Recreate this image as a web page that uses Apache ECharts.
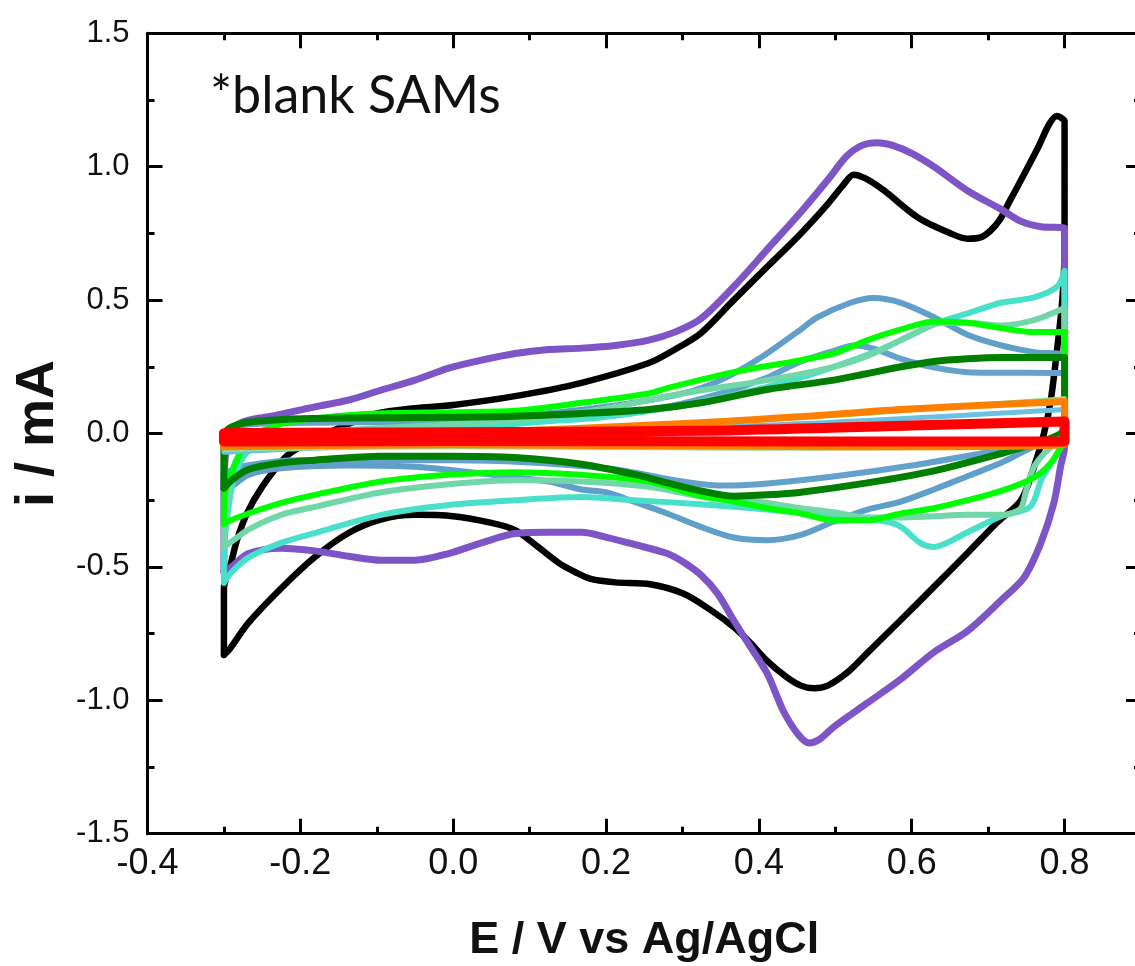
<!DOCTYPE html>
<html>
<head>
<meta charset="utf-8">
<script src="https://cdn.jsdelivr.net/npm/echarts@6/dist/echarts.min.js"></script>
<style>
html,body{margin:0;padding:0;background:#fff;}
#chart{width:1135px;height:966px;}
</style>
</head>
<body>
<div id="chart"></div>
<script>
// Tick values
const xMajor = [-0.4, -0.2, 0, 0.2, 0.4, 0.6, 0.8];
const xMinor = [-0.3, -0.1, 0.1, 0.3, 0.5, 0.7];
const yMajor = [-1.5, -1, -0.5, 0, 0.5, 1, 1.5];
const yMinor = [-1.25, -0.75, -0.25, 0.25, 0.75, 1.25];

// CV curves: [E (V), i (mA)]
const cvBlack = [
[-0.3,-0.83],[-0.3,-0.58],[-0.292,-0.5],[-0.283,-0.4],[-0.27,-0.3],[-0.25,-0.2],[-0.22,-0.09],[-0.2,-0.05],[-0.15,0.02],[-0.1,0.075],[-0.05,0.095],[0,0.107],[0.081,0.14],[0.168,0.19],[0.256,0.264],[0.29,0.315],[0.324,0.376],[0.367,0.5],[0.411,0.625],[0.455,0.75],[0.49,0.86],[0.51,0.93],[0.524,0.97],[0.54,0.955],[0.564,0.91],[0.608,0.81],[0.651,0.75],[0.673,0.73],[0.69,0.735],[0.703,0.76],[0.715,0.8],[0.728,0.87],[0.743,0.95],[0.765,1.07],[0.78,1.16],[0.79,1.19],[0.797,1.18],[0.8,1.17],
[0.8,0.7],[0.797,0.5],[0.79,0.31],[0.782,0.126],[0.773,0.0],[0.76,-0.125],[0.743,-0.25],[0.713,-0.33],[0.673,-0.448],[0.629,-0.575],[0.586,-0.698],[0.542,-0.822],[0.516,-0.895],[0.49,-0.945],[0.472,-0.955],[0.455,-0.945],[0.435,-0.91],[0.41,-0.85],[0.389,-0.785],[0.367,-0.725],[0.337,-0.662],[0.301,-0.6],[0.258,-0.565],[0.212,-0.558],[0.18,-0.545],[0.16,-0.52],[0.138,-0.485],[0.111,-0.425],[0.081,-0.362],[0.05,-0.335],[0,-0.31],[-0.05,-0.305],[-0.094,-0.322],[-0.137,-0.373],[-0.181,-0.463],[-0.225,-0.58],[-0.268,-0.71],[-0.293,-0.81],[-0.3,-0.83]
];
const cvPurple = [
[-0.3,-0.52],[-0.3,-0.2],[-0.297,-0.06],[-0.29,0.01],[-0.278,0.04],[-0.26,0.055],[-0.238,0.065],[-0.181,0.1],[-0.137,0.125],[-0.094,0.163],[-0.05,0.2],[-0.006,0.245],[0.037,0.275],[0.081,0.3],[0.125,0.315],[0.168,0.32],[0.212,0.33],[0.256,0.35],[0.29,0.38],[0.324,0.43],[0.367,0.55],[0.411,0.69],[0.455,0.83],[0.49,0.95],[0.515,1.04],[0.535,1.08],[0.555,1.09],[0.575,1.08],[0.6,1.05],[0.629,1.0],[0.673,0.91],[0.717,0.84],[0.743,0.795],[0.769,0.775],[0.8,0.77],
[0.8,-0.05],[0.795,-0.12],[0.786,-0.26],[0.769,-0.41],[0.747,-0.54],[0.717,-0.625],[0.673,-0.74],[0.629,-0.82],[0.586,-0.92],[0.542,-1.01],[0.498,-1.1],[0.48,-1.145],[0.466,-1.16],[0.452,-1.13],[0.432,-1.04],[0.411,-0.9],[0.389,-0.8],[0.367,-0.7],[0.346,-0.6],[0.324,-0.53],[0.3,-0.48],[0.28,-0.45],[0.236,-0.415],[0.202,-0.39],[0.168,-0.37],[0.125,-0.37],[0.081,-0.375],[0.037,-0.41],[-0.006,-0.45],[-0.05,-0.475],[-0.094,-0.475],[-0.137,-0.46],[-0.181,-0.44],[-0.225,-0.43],[-0.268,-0.45],[-0.29,-0.5],[-0.3,-0.52]
];
const cvBlueA = [
[-0.3,-0.22],[-0.3,-0.05],[-0.29,0.01],[-0.27,0.035],[-0.2,0.045],[-0.1,0.05],[0,0.055],[0.1,0.07],[0.2,0.1],[0.3,0.15],[0.35,0.2],[0.4,0.28],[0.45,0.38],[0.477,0.436],[0.52,0.49],[0.55,0.508],[0.586,0.49],[0.629,0.436],[0.673,0.37],[0.717,0.33],[0.76,0.305],[0.8,0.29],
[0.8,0.0],[0.795,-0.02],[0.76,-0.05],[0.717,-0.11],[0.673,-0.16],[0.629,-0.21],[0.586,-0.255],[0.542,-0.285],[0.498,-0.33],[0.455,-0.38],[0.411,-0.4],[0.367,-0.39],[0.324,-0.35],[0.28,-0.3],[0.236,-0.255],[0.2,-0.22],[0.168,-0.21],[0.125,-0.18],[0.037,-0.15],[-0.05,-0.125],[-0.137,-0.12],[-0.225,-0.13],[-0.268,-0.155],[-0.29,-0.2],[-0.3,-0.22]
];
const cvBlueB = [
[-0.3,-0.15],[-0.3,-0.02],[-0.28,0.03],[-0.2,0.04],[0,0.045],[0.2,0.07],[0.28,0.1],[0.35,0.15],[0.411,0.21],[0.455,0.27],[0.498,0.31],[0.524,0.33],[0.55,0.318],[0.586,0.28],[0.629,0.248],[0.673,0.23],[0.8,0.225],
[0.8,0.02],[0.78,-0.03],[0.7,-0.07],[0.6,-0.12],[0.5,-0.16],[0.4,-0.19],[0.35,-0.195],[0.3,-0.18],[0.2,-0.13],[0,-0.1],[-0.2,-0.1],[-0.27,-0.12],[-0.3,-0.15]
];
const cvTurquoise = [
[-0.3,-0.56],[-0.3,-0.45],[-0.295,-0.3],[-0.288,-0.18],[-0.275,-0.09],[-0.255,-0.04],[-0.22,-0.01],[-0.15,0.005],[-0.05,0.015],[0.05,0.03],[0.12,0.045],[0.193,0.06],[0.28,0.095],[0.324,0.12],[0.367,0.145],[0.411,0.175],[0.455,0.21],[0.498,0.25],[0.542,0.295],[0.586,0.35],[0.629,0.41],[0.673,0.45],[0.717,0.49],[0.76,0.51],[0.79,0.55],[0.8,0.61],
[0.8,0.0],[0.795,-0.05],[0.785,-0.1],[0.77,-0.17],[0.755,-0.275],[0.717,-0.31],[0.673,-0.37],[0.629,-0.425],[0.611,-0.41],[0.586,-0.35],[0.565,-0.33],[0.498,-0.31],[0.411,-0.285],[0.324,-0.265],[0.236,-0.25],[0.168,-0.238],[0.081,-0.25],[-0.006,-0.268],[-0.094,-0.305],[-0.181,-0.373],[-0.225,-0.41],[-0.268,-0.465],[-0.29,-0.52],[-0.3,-0.56]
];
const cvAqua = [
[-0.3,-0.425],[-0.3,-0.35],[-0.295,-0.25],[-0.29,-0.15],[-0.28,-0.08],[-0.26,-0.03],[-0.23,-0.01],[-0.18,0.005],[-0.1,0.02],[0,0.035],[0.1,0.055],[0.193,0.09],[0.3,0.15],[0.411,0.2],[0.498,0.25],[0.55,0.3],[0.6,0.37],[0.64,0.415],[0.673,0.415],[0.717,0.405],[0.76,0.425],[0.8,0.47],
[0.8,0.02],[0.79,-0.03],[0.775,-0.07],[0.76,-0.125],[0.75,-0.21],[0.743,-0.28],[0.73,-0.3],[0.717,-0.305],[0.673,-0.305],[0.629,-0.31],[0.586,-0.315],[0.542,-0.315],[0.498,-0.295],[0.455,-0.28],[0.411,-0.26],[0.324,-0.235],[0.256,-0.2],[0.168,-0.18],[0.081,-0.175],[-0.006,-0.19],[-0.094,-0.22],[-0.181,-0.275],[-0.225,-0.305],[-0.268,-0.36],[-0.29,-0.405],[-0.3,-0.425]
];
const cvLime = [
[-0.3,-0.34],[-0.3,-0.25],[-0.293,-0.17],[-0.283,-0.1],[-0.27,-0.03],[-0.25,0.01],[-0.22,0.04],[-0.17,0.06],[-0.1,0.075],[0,0.08],[0.081,0.085],[0.168,0.115],[0.256,0.15],[0.28,0.17],[0.367,0.23],[0.455,0.275],[0.498,0.3],[0.542,0.35],[0.586,0.39],[0.629,0.42],[0.673,0.415],[0.717,0.395],[0.76,0.38],[0.8,0.38],
[0.8,0.0],[0.795,-0.05],[0.782,-0.11],[0.76,-0.165],[0.717,-0.215],[0.673,-0.25],[0.629,-0.28],[0.586,-0.3],[0.542,-0.325],[0.498,-0.325],[0.455,-0.3],[0.411,-0.28],[0.367,-0.255],[0.324,-0.235],[0.256,-0.18],[0.168,-0.155],[0.081,-0.145],[-0.006,-0.155],[-0.094,-0.18],[-0.181,-0.23],[-0.225,-0.26],[-0.268,-0.3],[-0.295,-0.33],[-0.3,-0.34]
];
const cvDarkGreen = [
[-0.3,-0.2],[-0.3,-0.02],[-0.295,0.015],[-0.28,0.035],[-0.26,0.045],[-0.2,0.055],[-0.05,0.06],[0.08,0.065],[0.168,0.075],[0.256,0.09],[0.324,0.115],[0.411,0.165],[0.498,0.2],[0.542,0.225],[0.586,0.25],[0.629,0.27],[0.673,0.28],[0.717,0.285],[0.8,0.285],
[0.8,0.04],[0.795,0.0],[0.769,-0.03],[0.717,-0.075],[0.629,-0.14],[0.542,-0.185],[0.455,-0.22],[0.411,-0.23],[0.367,-0.235],[0.324,-0.215],[0.28,-0.185],[0.24,-0.155],[0.168,-0.115],[0.08,-0.09],[-0.006,-0.085],[-0.094,-0.085],[-0.181,-0.1],[-0.225,-0.11],[-0.268,-0.135],[-0.29,-0.175],[-0.3,-0.205]
];
const cvLightBlue = [
[-0.3,-0.07],[-0.27,-0.02],[0,0.0],[0.4,0.03],[0.8,0.09],
[0.8,0.0],[0.75,-0.04],[0.4,-0.04],[0,-0.04],[-0.3,-0.07]
];
const cvLightGreen = [
[-0.3,-0.06],[-0.25,-0.01],[0,0.0],[0.4,0.05],[0.8,0.13],
[0.8,-0.02],[0.7,-0.05],[0.4,-0.055],[0,-0.05],[-0.3,-0.06]
];
const cvOrange = [
[-0.3,-0.05],[-0.25,-0.015],[0,0.0],[0.324,0.04],[0.455,0.063],[0.586,0.09],[0.8,0.12],
[0.8,-0.04],[0.5,-0.05],[0,-0.042],[-0.3,-0.05]
];
const cvRed = [
[-0.3,-0.03],[-0.3,0.0],[0,0.005],[0.324,0.01],[0.6,0.03],[0.8,0.045],
[0.8,-0.03],[0.5,-0.03],[0,-0.028],[-0.3,-0.03]
];

const curves = [
  {name:'black', data:cvBlack, color:'#000000', width:6.5},
  {name:'purple', data:cvPurple, color:'#7e55c7', width:7},
  {name:'blueA', data:cvBlueA, color:'#5f9fc9', width:6},
  {name:'blueB', data:cvBlueB, color:'#64a2cb', width:6},
  {name:'turquoise', data:cvTurquoise, color:'#48dfcb', width:6},
  {name:'aqua', data:cvAqua, color:'#72d7a8', width:6},
  {name:'lime', data:cvLime, color:'#00ff00', width:6},
  {name:'darkgreen', data:cvDarkGreen, color:'#007f00', width:7},
  {name:'lightblue', data:cvLightBlue, color:'#6cc0e0', width:5},
  {name:'lightgreen', data:cvLightGreen, color:'#90e090', width:5},
  {name:'orange', data:cvOrange, color:'#ff7f00', width:7},
  {name:'red', data:cvRed, color:'#ff0000', width:10}
];

const AX = '#000';
function xAx(pos, ticks, len, withLabel, lineShow) {
  const a = {
    type:'value', min:-0.4, max:0.9, position:pos, gridIndex:0,
    axisLine:{show:lineShow, onZero:false, lineStyle:{color:AX, width:3}},
    axisTick:{show:true, inside:true, length:len, customValues:ticks, lineStyle:{color:AX, width:3}},
    axisLabel:{show:false},
    splitLine:{show:false}
  };
  if (withLabel) {
    a.axisLabel = {show:true, customValues:xMajor, margin:12, color:'#111',
      fontFamily:'Liberation Sans, Arial, sans-serif', fontSize:36,
      formatter:v=>v.toFixed(1)};
    a.name = 'E / V vs Ag/AgCl';
    a.nameLocation = 'middle';
    a.nameGap = 84;
    a.nameTextStyle = {fontFamily:'Liberation Sans, Arial, sans-serif', fontWeight:'bold', fontSize:45, color:'#111'};
  }
  return a;
}
function yAx(pos, ticks, len, withLabel, lineShow) {
  const a = {
    type:'value', min:-1.5, max:1.5, position:pos, gridIndex:0,
    axisLine:{show:lineShow, onZero:false, lineStyle:{color:AX, width:3}},
    axisTick:{show:true, inside:true, length:len, customValues:ticks, lineStyle:{color:AX, width:3}},
    axisLabel:{show:false},
    splitLine:{show:false}
  };
  if (withLabel) {
    a.axisLabel = {show:true, customValues:yMajor, margin:18, color:'#111',
      fontFamily:'Liberation Sans, Arial, sans-serif', fontSize:31,
      formatter:v=>v.toFixed(1)};
    a.name = 'i / mA';
    a.nameLocation = 'middle';
    a.nameGap = 80;
    a.nameTextStyle = {fontFamily:'Liberation Sans, Arial, sans-serif', fontWeight:'bold', fontSize:54, color:'#111'};
  }
  return a;
}

const chart = echarts.init(document.getElementById('chart'), null, {renderer:'canvas'});
chart.setOption({
  animation:false,
  backgroundColor:'#fff',
  grid:{left:147.5, top:33.3, width:993.5, height:800.4, containLabel:false, outerBoundsMode:'none'},
  xAxis:[
    xAx('bottom', xMajor, 15, true, true),
    xAx('bottom', xMinor, 7, false, false),
    xAx('top', xMajor, 15, false, true),
    xAx('top', xMinor, 7, false, false)
  ],
  yAxis:[
    yAx('left', yMajor, 15, true, true),
    yAx('left', yMinor, 7, false, false),
    yAx('right', yMajor, 15, false, true),
    yAx('right', yMinor, 7, false, false)
  ],
  graphic:[{
    type:'text', left:210, top:70,
    style:{text:'*blank SAMs', fontFamily:'Lato, "Open Sans", sans-serif', fontSize:52, fill:'#111'}
  }],
  series: curves.map(c => ({
    name:c.name, type:'line', data:c.data, xAxisIndex:0, yAxisIndex:0,
    showSymbol:false, symbol:'none', smooth:0.3, clip:true,
    lineStyle:{color:c.color, width:c.width, join:'round', cap:'round'}
  }))
});
</script>
</body>
</html>
